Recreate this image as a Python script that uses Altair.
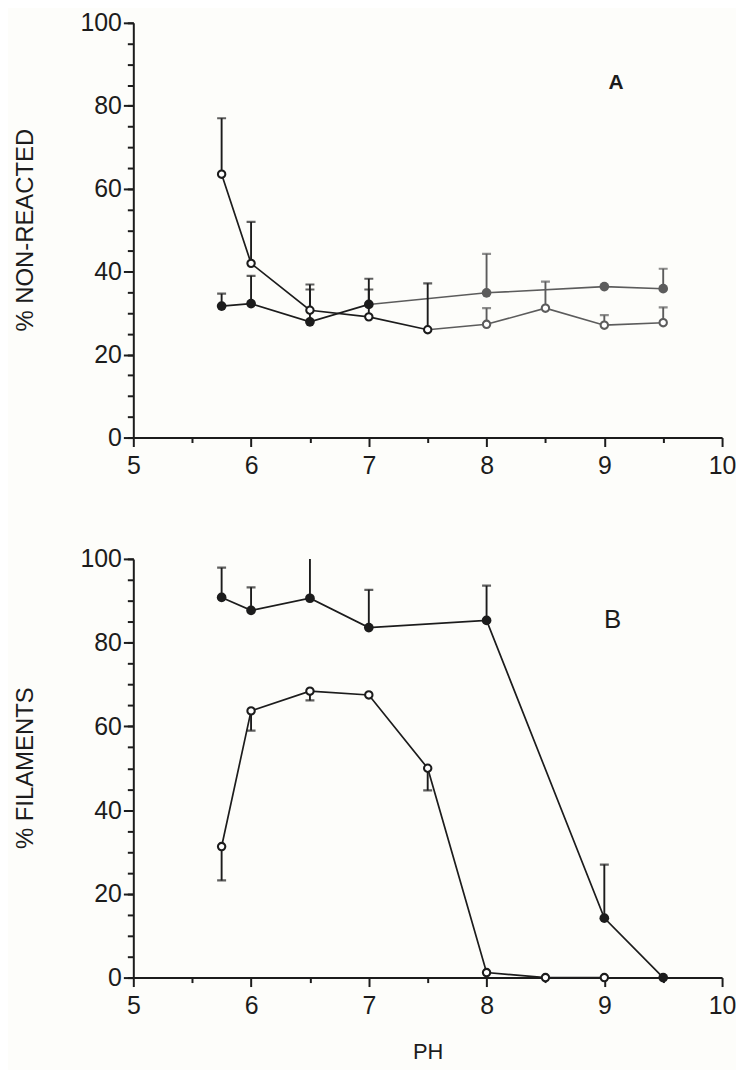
import altair as alt
import pandas as pd

# ---------------- data ----------------
# Panel A: % non-reacted
a_open_ph = [5.75, 6.0, 6.5, 7.0, 7.5, 8.0, 8.5, 9.0, 9.5]
a_open_val = [63.5, 42.0, 30.7, 29.1, 26.0, 27.3, 31.2, 27.1, 27.7]
a_open_err = [77.0, 52.0, 36.9, 35.7, 37.2, 31.2, 37.6, 29.5, 31.4]

a_fill_ph = [5.75, 6.0, 6.5, 7.0, 8.0, 9.0, 9.5]
a_fill_val = [31.7, 32.3, 27.9, 32.1, 34.9, 36.4, 35.9]
a_fill_err = [34.7, 39.0, 35.7, 38.3, 44.3, None, 40.7]

# Panel B: % filaments
b_open_ph = [5.75, 6.0, 6.5, 7.0, 7.5, 8.0, 8.5, 9.0]
b_open_val = [31.3, 63.7, 68.4, 67.5, 50.0, 1.2, 0.0, 0.0]
b_open_err = [23.2, 59.0, 66.2, None, 44.7, None, None, None]

b_fill_ph = [5.75, 6.0, 6.5, 7.0, 8.0, 9.0, 9.5]
b_fill_val = [90.8, 87.7, 90.6, 83.6, 85.3, 14.2, 0.0]
b_fill_err = [97.9, 93.2, 102.0, 92.6, 93.6, 27.0, None]

y_major = [0, 20, 40, 60, 80, 100]
y_minor = list(range(0, 101, 5))
x_major = [5, 6, 7, 8, 9, 10]
x_minor = [5.5, 6.5, 7.5, 8.5, 9.5]

FONT = "Liberation Sans"
INK = "#1c1c1c"
GRAY = "#5c5c5c"

X_SCALE = alt.Scale(domain=[5, 10], nice=False, zero=False)
Y_SCALE = alt.Scale(domain=[0, 100], nice=False, zero=False)


def frame(ph, val, err):
    return pd.DataFrame({"ph": ph, "val": val, "err": err})


def xy(xaxis=None, yaxis=None):
    return dict(
        x=alt.X("ph:Q", scale=X_SCALE, axis=xaxis),
        y=alt.Y("val:Q", scale=Y_SCALE, axis=yaxis),
    )


def series_layers(df, filled, line_gray_from=None, point_gray_from=None):
    layers = []
    if line_gray_from is None:
        layers.append(alt.Chart(df).mark_line(color=INK, strokeWidth=1.7).encode(**xy()))
    else:
        layers.append(alt.Chart(df).transform_filter(f"datum.ph <= {line_gray_from}")
                      .mark_line(color=INK, strokeWidth=1.7).encode(**xy()))
        layers.append(alt.Chart(df).transform_filter(f"datum.ph >= {line_gray_from}")
                      .mark_line(color=GRAY, strokeWidth=1.6).encode(**xy()))

    def colored():
        if point_gray_from is None:
            return alt.value(INK)
        return alt.condition(f"datum.ph >= {point_gray_from}", alt.value(GRAY), alt.value(INK))

    err = alt.Chart(df).transform_filter("isValid(datum.err)")
    layers.append(err.mark_rule(strokeWidth=1.9, clip=True).encode(
        x=alt.X("ph:Q", scale=X_SCALE, axis=None),
        y=alt.Y("val:Q", scale=Y_SCALE, axis=None),
        y2="err:Q",
        color=colored(),
    ))
    layers.append(err.mark_tick(orient="horizontal", size=9, thickness=2.2, clip=True).encode(
        x=alt.X("ph:Q", scale=X_SCALE, axis=None),
        y=alt.Y("err:Q", scale=Y_SCALE, axis=None),
        color=colored(),
    ))
    if filled:
        layers.append(alt.Chart(df).mark_point(shape="circle", filled=True, size=95, opacity=1)
                      .encode(**xy(), color=colored()))
    else:
        layers.append(alt.Chart(df).mark_point(shape="circle", filled=True, fill="white",
                                               strokeWidth=2.1, size=55, opacity=1)
                      .encode(**xy(), stroke=colored()))
    return layers


def axis_layers(df, ytitle, ytitle_y, xtitle=None):
    xextra = {}
    if xtitle:
        xextra = {"titleFont": FONT, "titleFontSize": 22, "titleFontWeight": "normal",
                  "titleColor": INK, "titleX": 296, "titleY": 74, "titleBaseline": "middle",
                  "titleAlign": "center"}
    major = alt.Chart(df).mark_point(opacity=0).encode(
        x=alt.X("ph:Q", scale=X_SCALE, axis=alt.Axis(
            orient="bottom", values=x_major, format="d", tickSize=9, tickWidth=2,
            tickColor=INK, domainColor=INK, domainWidth=2, labelFont=FONT,
            labelFontSize=25, labelColor=INK, labelPadding=7, labelFlush=False,
            labelOverlap=False, grid=False,
            title=xtitle if xtitle else None, **xextra)),
        y=alt.Y("val:Q", scale=Y_SCALE, axis=alt.Axis(
            orient="left", values=y_major, format="d", tickSize=10, tickWidth=2,
            tickColor=INK, domainColor=INK, domainWidth=2, labelFont=FONT,
            labelFontSize=25, labelColor=INK, labelPadding=2, labelFlush=False,
            labelOverlap=False, grid=False, title=ytitle, titleFont=FONT,
            titleFontSize=24, titleFontWeight="normal", titleColor=INK,
            titleAngle=-90, titleX=-108, titleY=ytitle_y, titleBaseline="middle",
            titleAlign="center")),
    )
    minor = alt.Chart(df).mark_point(opacity=0).encode(
        x=alt.X("ph:Q", scale=X_SCALE, axis=alt.Axis(
            orient="bottom", values=x_minor, tickSize=5, tickWidth=2, tickColor=INK,
            labels=False, domain=False, grid=False, title=None)),
        y=alt.Y("val:Q", scale=Y_SCALE, axis=alt.Axis(
            orient="left", values=y_minor, tickSize=6, tickWidth=2, tickColor=INK,
            labels=False, domain=False, grid=False, title=None)),
    )
    return [minor, major]


def label_layer(text, x, y, size, weight):
    d = pd.DataFrame({"ph": [x], "val": [y], "txt": [text]})
    return alt.Chart(d).mark_text(font=FONT, fontSize=size, fontWeight=weight,
                                  color=INK, align="center", baseline="middle").encode(
        **xy(), text="txt:N")


# ---------------- panel A ----------------
dfa_o = frame(a_open_ph, a_open_val, a_open_err)
dfa_f = frame(a_fill_ph, a_fill_val, a_fill_err)
panel_a = alt.layer(
    *axis_layers(dfa_o, "% NON-REACTED", 208),
    *series_layers(dfa_f, True, line_gray_from=7, point_gray_from=8),
    *series_layers(dfa_o, False, line_gray_from=7.5, point_gray_from=8),
    label_layer("A", 9.1, 85.6, 21, "bold"),
).resolve_axis(x="independent", y="independent").properties(width=592, height=417)

# ---------------- panel B ----------------
dfb_o = frame(b_open_ph, b_open_val, b_open_err)
dfb_f = frame(b_fill_ph, b_fill_val, b_fill_err)
panel_b = alt.layer(
    *axis_layers(dfb_o, "% FILAMENTS", 210, xtitle="PH"),
    *series_layers(dfb_f, True),
    *series_layers(dfb_o, False),
    label_layer("B", 9.07, 85.5, 26, "normal"),
).resolve_axis(x="independent", y="independent").properties(width=592, height=421)

chart = alt.vconcat(panel_a, panel_b, spacing=122, bounds="flush").properties(
    padding={"left": 6, "top": 0, "right": 0, "bottom": 5},
    background="#fdfdfa",
).configure_view(stroke=None)

chart.save("out.html", embed_options={"renderer": "svg", "actions": False})
